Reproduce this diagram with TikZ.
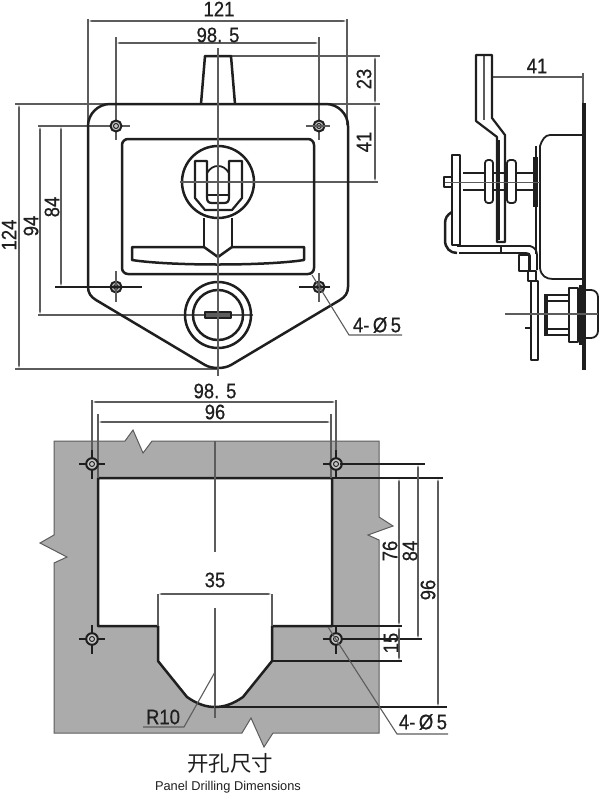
\documentclass[tikz,border=0pt]{standalone}
\usepackage{fontspec}
\setmainfont{Liberation Sans}
\newfontfamily\dimfont[FakeBold=0.6,FakeStretch=0.88]{Liberation Sans}
\newfontfamily\cjkfont{Noto Sans CJK SC}
\usetikzlibrary{arrows.meta}
\definecolor{ink}{gray}{0.12}
\definecolor{dimc}{gray}{0.36}
\definecolor{panel}{gray}{0.67}
\tikzset{
 x=1pt,y=-1pt,
 heavy/.style={draw=ink,line width=2.5pt,line join=round},
 mid/.style={draw=ink,line width=1.8pt,line join=round},
 thin line/.style={draw=dimc,line width=1.1pt},
 dimline/.style={draw=dimc,line width=1.1pt,{Latex[length=4pt,width=2pt]}-{Latex[length=4pt,width=2pt]}},
 label/.style={inner sep=0pt,text=ink,font=\dimfont\fontsize{21}{21}\selectfont},
 holeo/.style={draw=ink,line width=2pt,fill=panel!70},
}
\begin{document}
\begin{tikzpicture}
\useasboundingbox (0,0) rectangle (600,795);
% ---------- TOP VIEW ----------
\draw[thin line] (88,19)--(88,125) (347,19)--(347,125) (116,37)--(116,140) (319,37)--(319,140);
\draw[thin line] (15,104)--(380,104) (231,56)--(380,56) (180,182)--(378,182);
\draw[thin line] (15,369)--(218,369) (38,126)--(130,126) (38,315)--(253,315);
\draw[heavy] (110,104)--(326,104) .. controls (338,104) and (348,114) .. (348,126) --(348,287)
  .. controls (348,293) and (345,297) .. (340,300) -- (231,365) .. controls (224,369) and (212,369) .. (205,365)
  -- (96,300) .. controls (91,297) and (88,293) .. (88,287) -- (88,126) .. controls (88,114) and (98,104) .. (110,104) -- cycle;
\draw[heavy] (201,104)--(205,56)--(231,56)--(235,104);
\draw[heavy,rounded corners=6pt] (122,139) rectangle (314,274);
\draw[heavy] (218,182) circle[radius=36];
% fork
\draw[mid,line width=2.2pt] (195,161)--(207,161)--(207,197) .. controls (207,201) and (208,203) .. (212,203) -- (224,203) .. controls (228,203) and (229,201) .. (229,197) -- (229,161)--(242,161)--(242,198)--(232,210)--(205,210)--(195,198)--cycle;
\draw[mid] (207,173) .. controls (210,168) and (214,166) .. (218,166) .. controls (222,166) and (226,168) .. (229,173);
\draw[mid,line width=1.3pt] (207,195)--(229,195);
% stem + handle
\draw[heavy] (204,218)--(204,247) (232,218)--(232,247);
\draw[heavy] (204,247)--(132,247)--(132,260) .. controls (170,266) and (266,266) .. (304,260) -- (304,247)--(232,247);
\draw[heavy] (204,247)--(218,257)--(232,247);
% lock
\draw[heavy] (218,315) circle[radius=33];
\draw[heavy] (218,315) circle[radius=25];
\draw[mid,fill=dimc] (205,312) rectangle (231,318);
% holes
\foreach \cx/\cy in {116/126,319/126,116/287,319/287}{\draw[holeo] (\cx,\cy) circle[radius=5.5];\draw[ink,line width=.9pt] (\cx,\cy) circle[radius=2.5];}
\draw[thin line] (306,126)--(330,126) (116,271)--(116,302) (319,273)--(319,302);
\draw[draw=ink,line width=1.5pt] (55,287)--(142,287) (299,287)--(330,287);
% centre line and dims
\draw[thin line] (218,48)--(218,376) (180,182)--(256,182);
\draw[dimline] (88,21)--(347,21);
\draw[dimline] (116,43)--(319,43);
\draw[dimline] (375,56)--(375,104);
\draw[dimline] (375,104)--(375,182);
\draw[dimline] (19,104)--(19,369);
\draw[dimline] (40,126)--(40,315);
\draw[dimline] (61,126)--(61,287);
\node[label] (t121) at (219,9) {121};
\node[label] (t985) at (218,35) {98. 5};
\node[label,rotate=90] (t23) at (364,79) {23};
\node[label,rotate=90] (t41) at (364,142) {41};
\node[label,rotate=90] (t124) at (9,235) {124};
\node[label,rotate=90] (t94) at (31,226) {94};
\node[label,rotate=90] (t84) at (52,207) {84};
\node[label] (td1) at (377,325) {4-\,Ø\,5};
\draw[thin line] (312,275)--(349,335)--(402,335);
% ---------- SIDE VIEW ----------
\draw[thin line] (492,77)--(583,77) (583,73)--(583,103);
\node[label] (t41b) at (537,66) {41};
\draw[draw=ink,line width=4pt] (584,103)--(584,370);
% upper strip
\draw[draw=dimc,line width=1.4pt] (484,56)--(484,120);
\draw[mid,line width=2.2pt] (476,121)--(476,55)--(492,55)--(492,118)--(505,135)--(505,242)--(497,242)--(497,137)--cycle;
\draw[draw=ink,line width=3.5pt] (498,140)--(498,240);
% body
\draw[mid] (584,135)--(550,135) .. controls (545,135) and (542,140) .. (540,146) -- (540,268) .. controls (541,276) and (546,279) .. (553,279) -- (584,279);
\draw[draw=ink,line width=5pt] (535,157)--(535,207);
\draw[mid] (536,146)--(536,157) (536,207)--(536,254);
% bolts
\draw[mid] (463,173)--(533,173) (463,190)--(533,190);
\draw[mid,fill=white,rounded corners=3pt] (485,160) rectangle (493,203);
\draw[mid,fill=white,rounded corners=3pt] (507,160) rectangle (516,203);
\draw[mid,fill=white] (452,155) rectangle (460,245);
\draw[mid,fill=white] (444,177) rectangle (452,187);
\draw[heavy] (452,212) .. controls (447,215) and (445,218) .. (445,224) -- (445,240) .. controls (445,248) and (450,253) .. (457,253);
\draw[thin line,line width=.7pt] (445,182)--(540,182);
% L bracket
\draw[mid] (457,246)--(530,246) .. controls (534,247) and (537,250) .. (537,255) -- (537,270);
\draw[mid] (459,253)--(526,253) .. controls (529,253) and (530,254) .. (530,256) -- (530,271);
\draw[mid] (501,245)--(501,253);
\draw[mid] (519,255) rectangle (529,271);
\draw[mid] (528,271) rectangle (536,281);
\draw[mid] (531,281) rectangle (538,360);
\draw[heavy] (525,328)--(530,328);
% lock side
\draw[heavy] (544,295) -- (568,295) (544,335) -- (568,335);
\draw[draw=ink,line width=3.5pt] (546,296)--(546,334);
\draw[mid] (548,301)--(568,301) (548,329)--(568,329);
\draw[mid] (569,288) rectangle (578,342);
\draw[mid,rounded corners=7pt] (578,290)--(598,290)--(598,338)--(578,338);
\draw[draw=ink,line width=7pt] (582,285)--(582,345);
\draw[thin line] (505,314)--(598,314);
% ---------- PANEL ----------
\draw[draw=dimc,line width=1pt,fill=panel] (54,441)--(125,441)--(133,430)--(143,453)--(152,441)--(379,441)--(379,517)--(393,526)--(368,535)--(379,540)--(379,733)--(273,733)--(264,747)--(251,718)--(242,733)--(54,733)--(54,563)--(67,557)--(40,543)--(54,535)--cycle;
\draw[heavy,fill=white] (98,478)--(332,478)--(332,626)--(272,626)--(272,661)--(243,697) .. controls (233,704) and (224,707) .. (215,707) .. controls (206,707) and (197,704) .. (187,697) --(158,661)--(158,626)--(98,626)--cycle;
\draw[thin line] (215,441)--(215,552) (215,608)--(215,718);
\draw[thin line] (92,400)--(92,478) (336,400)--(336,478) (98,414)--(98,478) (331,414)--(331,478);
\draw[thin line] (158,594)--(158,626) (272,594)--(272,626);
\foreach \cx/\cy in {92/464,336/464,92/639,336/639}{\draw[draw=ink,line width=1.3pt] (\cx-13,\cy)--(\cx+13,\cy) (\cx,\cy-14)--(\cx,\cy+15);\draw[holeo] (\cx,\cy) circle[radius=5.8];\draw[ink,line width=.9pt] (\cx,\cy) circle[radius=2.5];}
\draw[draw=ink,line width=1.2pt] (340,464)--(425,464) (332,478)--(443,478) (215,707)--(447,707) (332,626)--(402,626) (272,661)--(402,661) (342,639)--(422,639);
\draw[dimline] (92,402)--(336,402);
\draw[dimline] (98,422)--(331,422);
\draw[dimline] (158,594)--(272,594);
\draw[dimline] (399,478)--(399,626);
\draw[dimline] (399,626)--(399,661);
\draw[dimline] (418,464)--(418,639);
\draw[dimline] (438,478)--(438,707);
\draw[thin line] (215,672)--(184,727)--(143,727);
\draw[thin line] (328,627)--(397,734)--(448,734);
\node[label] (t985b) at (215,391) {98. 5};
\node[label] (t96) at (215,412) {96};
\node[label] (t35) at (215,580) {35};
\node[label] (tR) at (163,717) {R10};
\node[label,rotate=90] (t76) at (390,551) {76};
\node[label,rotate=90] (t84b) at (410,551) {84};
\node[label,rotate=90] (t96b) at (428,590) {96};
\node[label,rotate=90] (t15) at (391,643) {15};
\node[label] (td2) at (423,722) {4-\,Ø\,5};
\node[inner sep=0pt,text=ink,font=\cjkfont\fontsize{21.5}{21.5}\selectfont] (cap1) at (230,763) {开孔尺寸};
\node[inner sep=0pt,text=ink,font=\fontsize{12.8}{12.8}\selectfont] (cap2) at (228,787) {Panel Drilling Dimensions};
\end{tikzpicture}
\end{document}
